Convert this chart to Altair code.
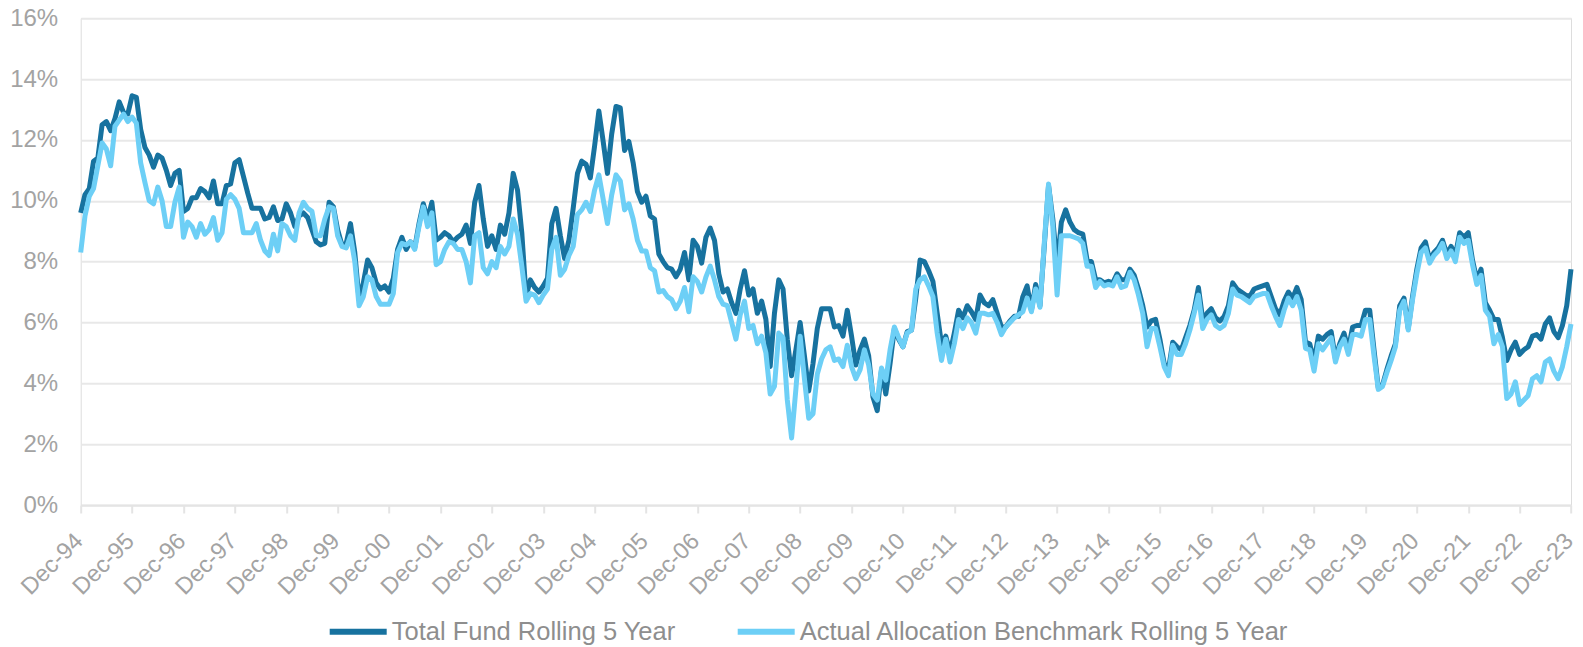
import altair as alt
import pandas as pd

# ---- data (percent, monthly from Dec-94 to Dec-23) ----
tick_labels = ["Dec-94", "Dec-95", "Dec-96", "Dec-97", "Dec-98", "Dec-99", "Dec-00", "Dec-01",
               "Dec-02", "Dec-03", "Dec-04", "Dec-05", "Dec-06", "Dec-07", "Dec-08", "Dec-09",
               "Dec-10", "Dec-11", "Dec-12", "Dec-13", "Dec-14", "Dec-15", "Dec-16", "Dec-17",
               "Dec-18", "Dec-19", "Dec-20", "Dec-21", "Dec-22", "Dec-23"]
y_ticks = [0, 2, 4, 6, 8, 10, 12, 14, 16]
series_names = ["Total Fund Rolling 5 Year", "Actual Allocation Benchmark Rolling 5 Year"]
series_colors = ["#17729f", "#6dcff6"]

fund = [
    9.6, 10.2, 10.4, 11.3, 11.4, 12.5, 12.6, 12.3, 12.7, 13.25,
    12.9, 12.85, 13.45, 13.4, 12.35, 11.75, 11.5, 11.1, 11.5, 11.4,
    11.0, 10.5, 10.9, 11.0, 9.65, 9.75, 10.1, 10.1, 10.4, 10.3,
    10.1, 10.65, 9.9, 9.9, 10.5, 10.55, 11.25, 11.35, 10.8, 10.25,
    9.75, 9.75, 9.75, 9.4, 9.45, 9.8, 9.35, 9.4, 9.9, 9.6,
    9.15, 9.5, 9.6, 9.45, 9.05, 8.65, 8.55, 8.6, 9.95, 9.8,
    9.05, 8.55, 8.6, 9.25, 8.3, 6.75, 7.3, 8.05, 7.8, 7.3,
    7.1, 7.2, 7.0, 7.45, 8.4, 8.8, 8.4, 8.65, 8.45, 9.25,
    9.9, 9.4, 9.95, 8.7, 8.8, 8.95, 8.85, 8.65, 8.8, 8.9,
    9.2, 8.6, 9.95, 10.5, 9.4, 8.5, 8.85, 8.4, 9.2, 8.9,
    9.6, 10.9, 10.35, 8.95, 6.85, 7.4, 7.15, 7.0, 7.2, 7.45,
    9.25, 9.75, 8.85, 8.1, 8.7, 9.75, 10.9, 11.3, 11.2, 10.75,
    11.8, 12.95, 11.95, 10.9, 12.2, 13.1, 13.05, 11.65, 11.95, 11.25,
    10.3, 9.95, 10.15, 9.5, 9.4, 8.25, 8.0, 7.8, 7.75, 7.5,
    7.75, 8.3, 7.4, 8.7, 8.5, 7.95, 8.8, 9.1, 8.7, 7.6,
    7.0, 7.1, 6.65, 6.3, 7.1, 7.7, 6.9, 7.1, 6.3, 6.7,
    6.1, 4.55, 6.3, 7.4, 7.1, 5.45, 4.25, 5.1, 6.0, 4.9,
    3.75, 4.65, 5.8, 6.45, 6.45, 6.45, 5.85, 5.9, 5.55, 6.4,
    5.55, 4.6, 5.1, 5.45, 4.9, 3.55, 3.1, 4.45, 3.65, 4.65,
    5.8, 5.45, 5.2, 5.7, 5.75, 6.8, 8.05, 8.0, 7.7, 7.35,
    6.3, 5.3, 5.55, 5.0, 5.65, 6.4, 6.15, 6.55, 6.35, 6.1,
    6.9, 6.65, 6.55, 6.75, 6.3, 5.85, 5.85, 6.05, 6.2, 6.2,
    6.85, 7.2, 6.4, 7.25, 6.55, 8.5, 10.5, 9.4, 7.85, 9.3,
    9.7, 9.3, 9.05, 8.95, 8.9, 8.05, 8.0, 7.4, 7.4, 7.3,
    7.35, 7.3, 7.6, 7.4, 7.4, 7.75, 7.55, 7.1, 6.55, 5.85,
    6.05, 6.1, 5.45, 4.65, 4.45, 5.35, 5.2, 5.1, 5.5, 5.9,
    6.4, 7.15, 6.1, 6.3, 6.45, 6.15, 6.05, 6.2, 6.55, 7.3,
    7.1, 7.0, 6.9, 6.85, 7.1, 7.15, 7.2, 7.25, 6.85, 6.45,
    6.25, 6.7, 7.0, 6.8, 7.15, 6.75, 5.35, 5.3, 4.7, 5.55,
    5.45, 5.6, 5.7, 4.8, 5.3, 5.65, 5.1, 5.85, 5.9, 5.9,
    6.4, 6.4, 5.1, 3.85, 3.95, 4.45, 4.9, 5.3, 6.55, 6.8,
    5.8, 6.85, 7.75, 8.45, 8.65, 8.05, 8.3, 8.45, 8.7, 8.25,
    8.5, 8.2, 8.95, 8.8, 8.95, 8.05, 7.4, 7.75, 6.65, 6.4,
    6.1, 6.1, 5.5, 4.75, 5.1, 5.35, 4.95, 5.1, 5.2, 5.55,
    5.6, 5.45, 5.95, 6.15, 5.7, 5.5, 5.9, 6.55, 7.75,
]

benchmark = [
    8.3, 9.5, 10.15, 10.4, 11.15, 11.9, 11.7, 11.15, 12.45, 12.65,
    12.85, 12.6, 12.75, 12.55, 11.25, 10.6, 10.0, 9.9, 10.45, 10.0,
    9.15, 9.15, 9.95, 10.45, 8.8, 9.3, 9.15, 8.8, 9.25, 8.9,
    9.05, 9.45, 8.7, 8.95, 10.05, 10.2, 10.05, 9.75, 8.95, 8.95,
    8.95, 9.25, 8.7, 8.35, 8.2, 8.9, 8.35, 9.25, 9.15, 8.85,
    8.7, 9.6, 9.95, 9.75, 9.65, 8.85, 8.85, 9.4, 9.8, 9.75,
    8.85, 8.5, 8.45, 8.85, 8.0, 6.55, 6.85, 7.5, 7.4, 6.85,
    6.6, 6.6, 6.6, 6.95, 8.3, 8.6, 8.55, 8.65, 8.4, 9.15,
    9.8, 9.15, 9.6, 7.9, 8.0, 8.4, 8.65, 8.6, 8.4, 8.4,
    8.0, 7.3, 8.85, 8.95, 7.8, 7.6, 8.0, 7.8, 8.5, 8.25,
    8.5, 9.4, 8.9, 7.85, 6.7, 6.95, 6.9, 6.65, 6.9, 7.1,
    8.4, 8.8, 7.55, 7.75, 8.2, 8.5, 9.55, 9.7, 9.95, 9.65,
    10.35, 10.85, 10.05, 9.25, 10.2, 10.85, 10.65, 9.7, 9.9, 9.4,
    8.7, 8.35, 8.35, 7.8, 7.7, 7.0, 7.05, 6.85, 6.75, 6.45,
    6.7, 7.15, 6.35, 7.5, 7.35, 7.0, 7.5, 7.85, 7.4, 6.85,
    6.6, 6.55, 6.0, 5.45, 6.25, 6.7, 5.8, 5.9, 5.3, 5.55,
    5.0, 3.65, 3.9, 5.65, 5.5, 3.45, 2.2, 3.8, 5.55, 4.15,
    2.85, 3.0, 4.3, 4.8, 5.1, 5.2, 4.75, 4.8, 4.55, 5.25,
    4.55, 4.15, 4.45, 5.1, 4.6, 3.65, 3.45, 4.5, 4.1, 5.1,
    5.85, 5.5, 5.2, 5.65, 5.75, 7.1, 7.4, 7.5, 7.2, 6.85,
    5.65, 4.75, 5.45, 4.7, 5.3, 6.1, 5.8, 6.15, 6.0, 5.65,
    6.3, 6.3, 6.25, 6.3, 6.0, 5.6, 5.85, 6.0, 6.15, 6.25,
    6.35, 6.8, 6.35, 7.1, 6.5, 8.6, 10.55, 9.15, 6.9, 8.85,
    8.85, 8.85, 8.8, 8.75, 8.6, 7.85, 7.85, 7.15, 7.35, 7.2,
    7.25, 7.2, 7.5, 7.15, 7.2, 7.65, 7.4, 6.9, 6.3, 5.2,
    5.8, 5.8, 5.2, 4.55, 4.25, 5.25, 4.95, 4.95, 5.3, 5.75,
    6.3, 6.9, 5.8, 6.1, 6.25, 5.9, 5.8, 5.9, 6.3, 7.1,
    6.9, 6.85, 6.75, 6.65, 6.85, 6.9, 6.95, 6.95, 6.55, 6.2,
    5.9, 6.4, 6.8, 6.55, 6.85, 6.4, 5.15, 5.1, 4.4, 5.3,
    5.1, 5.3, 5.5, 4.7, 5.2, 5.45, 4.95, 5.6, 5.6, 5.55,
    6.1, 6.1, 4.9, 3.8, 3.9, 4.35, 4.75, 5.2, 6.4, 6.7,
    5.75, 6.75, 7.6, 8.3, 8.45, 7.95, 8.2, 8.35, 8.6, 8.1,
    8.35, 8.0, 8.8, 8.6, 8.7, 7.9, 7.25, 7.55, 6.4, 6.2,
    5.3, 5.6, 5.2, 3.5, 3.65, 4.05, 3.3, 3.45, 3.6, 4.15,
    4.25, 4.05, 4.7, 4.8, 4.4, 4.15, 4.55, 5.2, 5.95,
]

n = len(fund)
df = pd.DataFrame({
    "month": list(range(n)) * 2,
    "value": fund + benchmark,
    "series": [series_names[0]] * n + [series_names[1]] * len(benchmark),
})

FONT = "Liberation Sans"
label_expr = "[" + ",".join("'" + t + "'" for t in tick_labels) + "][round(datum.value / 12)]"

x_enc = alt.X(
    "month:Q",
    scale=alt.Scale(domain=[0, n - 1], nice=False, zero=False),
    axis=alt.Axis(
        values=list(range(0, n, 12)),
        labelExpr=label_expr,
        labelAngle=-45,
        labelAlign="right",
        labelBaseline="middle",
        labelPadding=24,
        labelOffset=-2,
        labelFontSize=23.5,
        labelFont=FONT,
        labelColor="#a3a3a3",
        grid=False,
        domainColor="#e4e4e4",
        domainWidth=2,
        tickColor="#e4e4e4",
        tickWidth=2,
        tickSize=8,
        title=None,
        labelOverlap=False,
    ),
)
y_enc = alt.Y(
    "value:Q",
    scale=alt.Scale(domain=[0, 16], nice=False),
    axis=alt.Axis(
        values=y_ticks,
        labelExpr="datum.value + '%'",
        labelFontSize=24,
        labelFont=FONT,
        labelColor="#a3a3a3",
        labelPadding=23,
        domain=False,
        ticks=False,
        grid=True,
        gridColor="#e8e8e8",
        gridWidth=2,
        title=None,
    ),
)
color_enc = alt.Color(
    "series:N",
    scale=alt.Scale(domain=series_names, range=series_colors),
    legend=alt.Legend(
        title=None,
        orient="none",
        legendX=246,
        legendY=582,
        direction="horizontal",
        symbolType="stroke",
        symbolStrokeWidth=6,
        symbolSize=3249,
        labelFontSize=25.5,
        labelFont=FONT,
        labelColor="#8e8e8e",
        labelOffset=2,
        labelLimit=0,
        columnPadding=50,
        padding=0,
    ),
)

base = alt.Chart(df).mark_line(strokeWidth=5, strokeJoin="round").encode(
    x=x_enc, y=y_enc, color=color_enc
)
fund_line = base.transform_filter(alt.datum.series == series_names[0])
bench_line = base.transform_filter(alt.datum.series == series_names[1])

chart = alt.layer(fund_line, bench_line).properties(
    width=1490.3,
    height=486.8,
    autosize="none",
    padding={"left": 72.7, "top": 10.2, "right": 4, "bottom": 142},
).configure_view(stroke=None).configure(background="white")

chart.save("out.html", embed_options={"renderer": "svg", "actions": False})
